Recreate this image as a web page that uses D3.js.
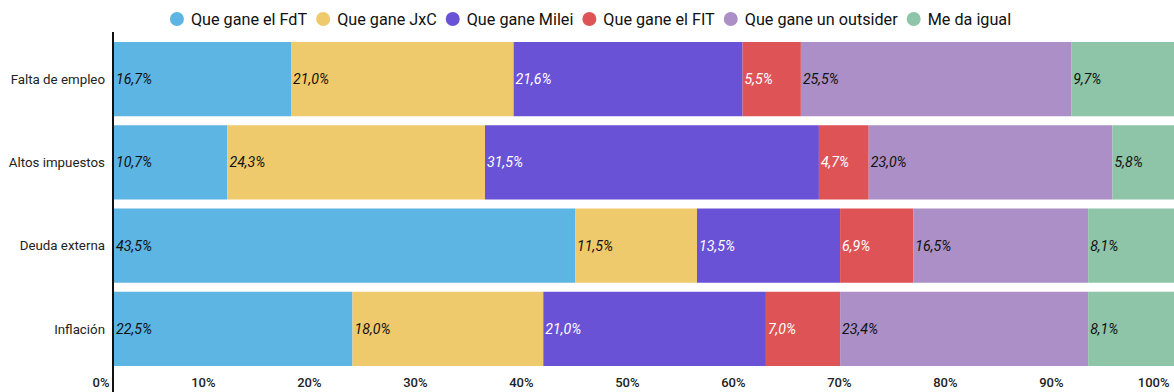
<!DOCTYPE html>
<html><head><meta charset="utf-8">
<script src="https://cdn.jsdelivr.net/npm/d3@7/dist/d3.min.js"></script>
<style>
html,body{margin:0;padding:0;background:#fff;}
svg{display:block;font-family:Roboto, "Noto Sans", sans-serif;}
</style></head>
<body>
<svg id="chart" width="1174" height="392"></svg>
<script>
const categories = ["Falta de empleo", "Altos impuestos", "Deuda externa", "Inflación"];
const seriesNames = ["Que gane el FdT", "Que gane JxC", "Que gane Milei", "Que gane el FIT", "Que gane un outsider", "Me da igual"];
const fdt      = [16.7, 10.7, 43.5, 22.5];
const jxc      = [21.0, 24.3, 11.5, 18.0];
const milei    = [21.6, 31.5, 13.5, 21.0];
const fit      = [5.5, 4.7, 6.9, 7.0];
const outsider = [25.5, 23.0, 16.5, 23.4];
const igual    = [9.7, 5.8, 8.1, 8.1];
const tickValues = [0, 10, 20, 30, 40, 50, 60, 70, 80, 90, 100];
const colors = ["#5DB5E3", "#EFCA6C", "#6A52D6", "#DE5356", "#AB8FC6", "#8EC4A8"];
const labelColors = ["#111", "#111", "#fff", "#fff", "#111", "#111"];

const seriesValues = [fdt, jxc, milei, fit, outsider, igual];
const rows = categories.map((c, i) => {
  const o = {cat: c};
  seriesNames.forEach((s, j) => o[s] = seriesValues[j][i]);
  return o;
});
const stacked = d3.stack().keys(seriesNames)(rows);

const svg = d3.select("#chart");
const x = d3.scaleLinear().domain([0, 100]).range([114, 1174]);
const y = d3.scaleBand().domain(categories).range([37.5, 370.5]).paddingInner(0.108).paddingOuter(0.054);

const fmt = v => d3.format(".1f")(v).replace(".", ",") + "%";

stacked.forEach((layer, j) => {
  const g = svg.append("g");
  g.selectAll("rect").data(layer).join("rect")
    .attr("x", d => x(d[0]))
    .attr("y", d => y(d.data.cat))
    .attr("width", d => x(d[1]) - x(d[0]))
    .attr("height", y.bandwidth())
    .attr("fill", colors[j]);
  g.selectAll("text").data(layer).join("text")
    .attr("x", d => x(d[0]) + 2)
    .attr("y", d => y(d.data.cat) + y.bandwidth() / 2)
    .attr("dy", "0.35em")
    .attr("font-size", 14.2)
    .attr("font-style", "italic")
    .attr("fill", labelColors[j])
    .text(d => fmt(d[1] - d[0]));
});

// category labels
svg.append("g").selectAll("text").data(categories).join("text")
  .attr("x", 105)
  .attr("y", d => y(d) + y.bandwidth() / 2)
  .attr("dy", "0.35em")
  .attr("text-anchor", "end")
  .attr("font-size", 13.3)
  .attr("fill", "#222")
  .text(d => d);

// x axis tick labels
const axis = d3.axisBottom(x).tickValues(tickValues).tickFormat(d => d + "%").tickSize(0).tickPadding(0);
const ax = svg.append("g").attr("transform", "translate(0,377.5)").call(axis);
ax.select(".domain").remove();
ax.selectAll("text")
  .attr("font-family", "Roboto, sans-serif")
  .attr("font-size", 13)
  .attr("font-weight", 500)
  .attr("fill", "#222")
  .attr("text-anchor", "end")
  .attr("x", -5)
  .attr("y", 0)
  .attr("dy", "0.71em");

// y axis line
svg.append("line")
  .attr("x1", 113).attr("x2", 113)
  .attr("y1", 32).attr("y2", 392)
  .attr("stroke", "#111").attr("stroke-width", 2);

// legend
const leg = svg.append("g");
let cx = 0;
seriesNames.forEach((s, j) => {
  const g = leg.append("g");
  g.append("circle").attr("cx", 7).attr("cy", 0).attr("r", 7).attr("fill", colors[j]);
  const t = g.append("text").attr("x", 21).attr("y", 0).attr("dy", "0.35em")
    .attr("font-size", 16.2).attr("fill", "#111").text(s);
  const w = 21 + t.node().getComputedTextLength();
  g.attr("transform", `translate(${cx},19)`);
  cx += w + 9;
});
const total = cx - 9;
leg.attr("transform", `translate(${590.5 - total / 2},0)`);
</script>
</body></html>
